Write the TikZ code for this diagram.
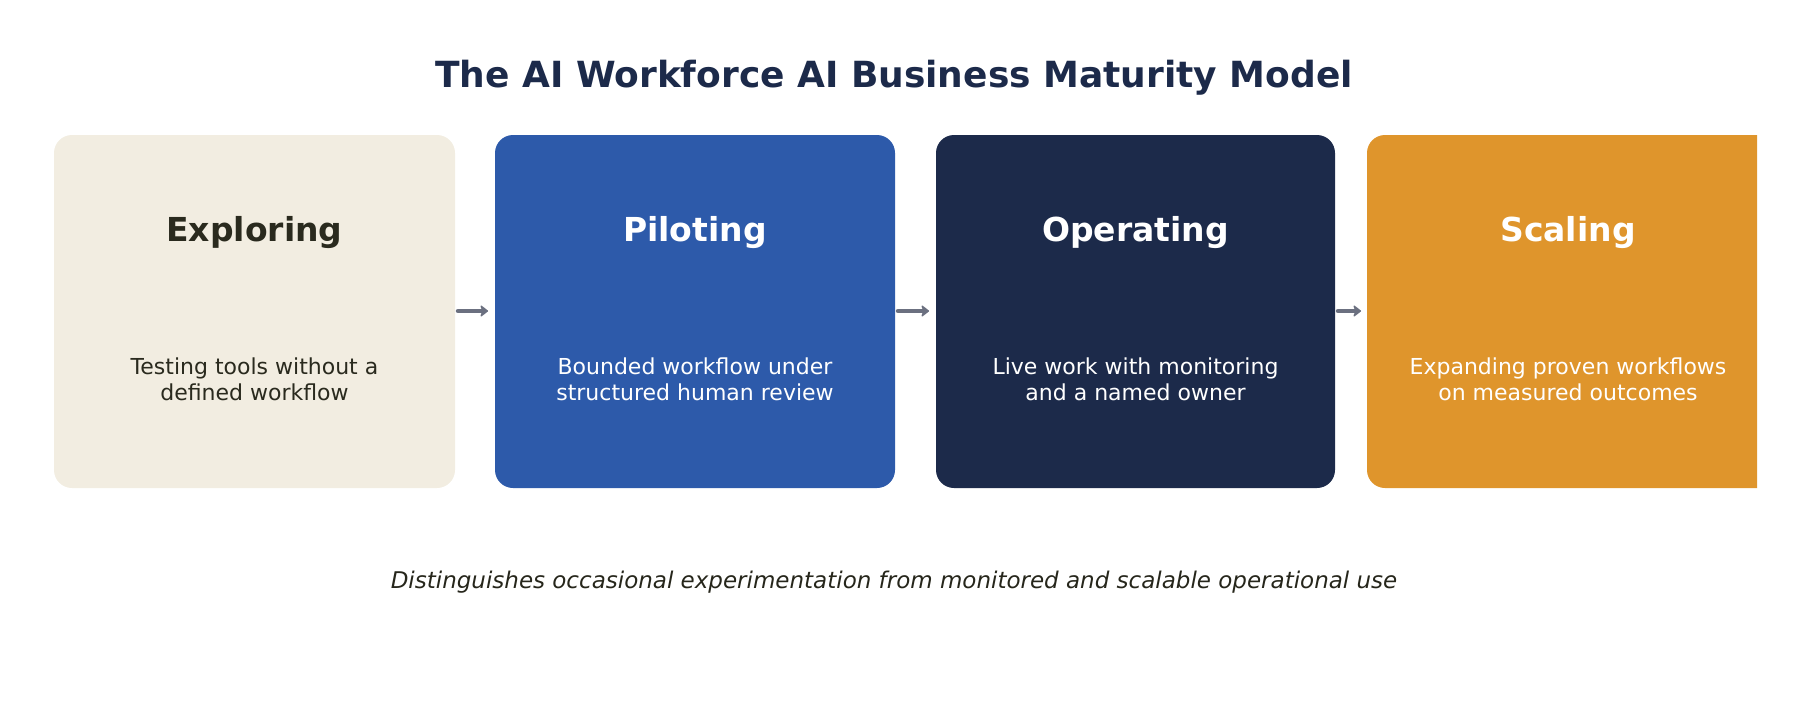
\documentclass[tikz,border=0pt]{standalone}
\usepackage{fontspec}
\setmainfont{DejaVu Sans}
\usetikzlibrary{arrows.meta}
\definecolor{cbeige}{HTML}{F2EDE1}
\definecolor{cblue}{HTML}{2D5AAA}
\definecolor{cnavy}{HTML}{1C2A4A}
\definecolor{corange}{HTML}{DF952C}
\definecolor{cdark}{HTML}{2A2A1E}
\definecolor{carrow}{HTML}{6B7080}
\begin{document}
\begin{tikzpicture}[x=1pt,y=-1pt,
  box/.style={rounded corners=18pt,inner sep=0pt},
  ttl/.style={font=\fontsize{33}{38}\selectfont\bfseries},
  body/.style={font=\fontsize{22}{26}\selectfont,align=center},
  arr/.style={draw=carrow,line width=4.5pt,line cap=round,-{Stealth[length=9pt,width=14pt,round]}}]
\useasboundingbox (0,0) rectangle (1800,720);
\node[font=\fontsize{36}{40}\selectfont\bfseries,text=cnavy] (title) at (894,78) {The AI Workforce AI Business Maturity Model};
\fill[cbeige,box] (54,135) rectangle (455,488);
\fill[cblue,box] (495,135) rectangle (895,488);
\fill[cnavy,box] (936,135) rectangle (1335,488);
\begin{scope}
\clip (1300,100) rectangle (1757,500);
\fill[corange,box] (1367,135) rectangle (1790,488);
\end{scope}
\coordinate (b1r) at (458,311); \coordinate (b2l) at (488,311);
\coordinate (b2r) at (898,311); \coordinate (b3l) at (929,311);
\coordinate (b3r) at (1338,311); \coordinate (b4l) at (1361,311);
\node[ttl,text=cdark] (t1) at (254.5,233) {Exploring};
\node[ttl,text=white] (t2) at (695,233) {Piloting};
\node[ttl,text=white] (t3) at (1135.5,233) {Operating};
\node[ttl,text=white] (t4) at (1568,233) {Scaling};
\node[body,text=cdark] (d1) at (254.5,379) {Testing tools without a\\defined workflow};
\node[body,text=white] (d2) at (695,379) {Bounded workflow under\\structured human review};
\node[body,text=white] (d3) at (1135.5,379) {Live work with monitoring\\and a named owner};
\node[body,text=white] (d4) at (1568,379) {Expanding proven workflows\\on measured outcomes};
\draw[arr] (b1r) -- (b2l);
\draw[arr] (b2r) -- (b3l);
\draw[arr] (b3r) -- (b4l);
\node[font=\fontsize{23}{27}\selectfont\itshape,text=cdark!90!black] (sub) at (894,582) {Distinguishes occasional experimentation from monitored and scalable operational use};
\end{tikzpicture}
\end{document}
